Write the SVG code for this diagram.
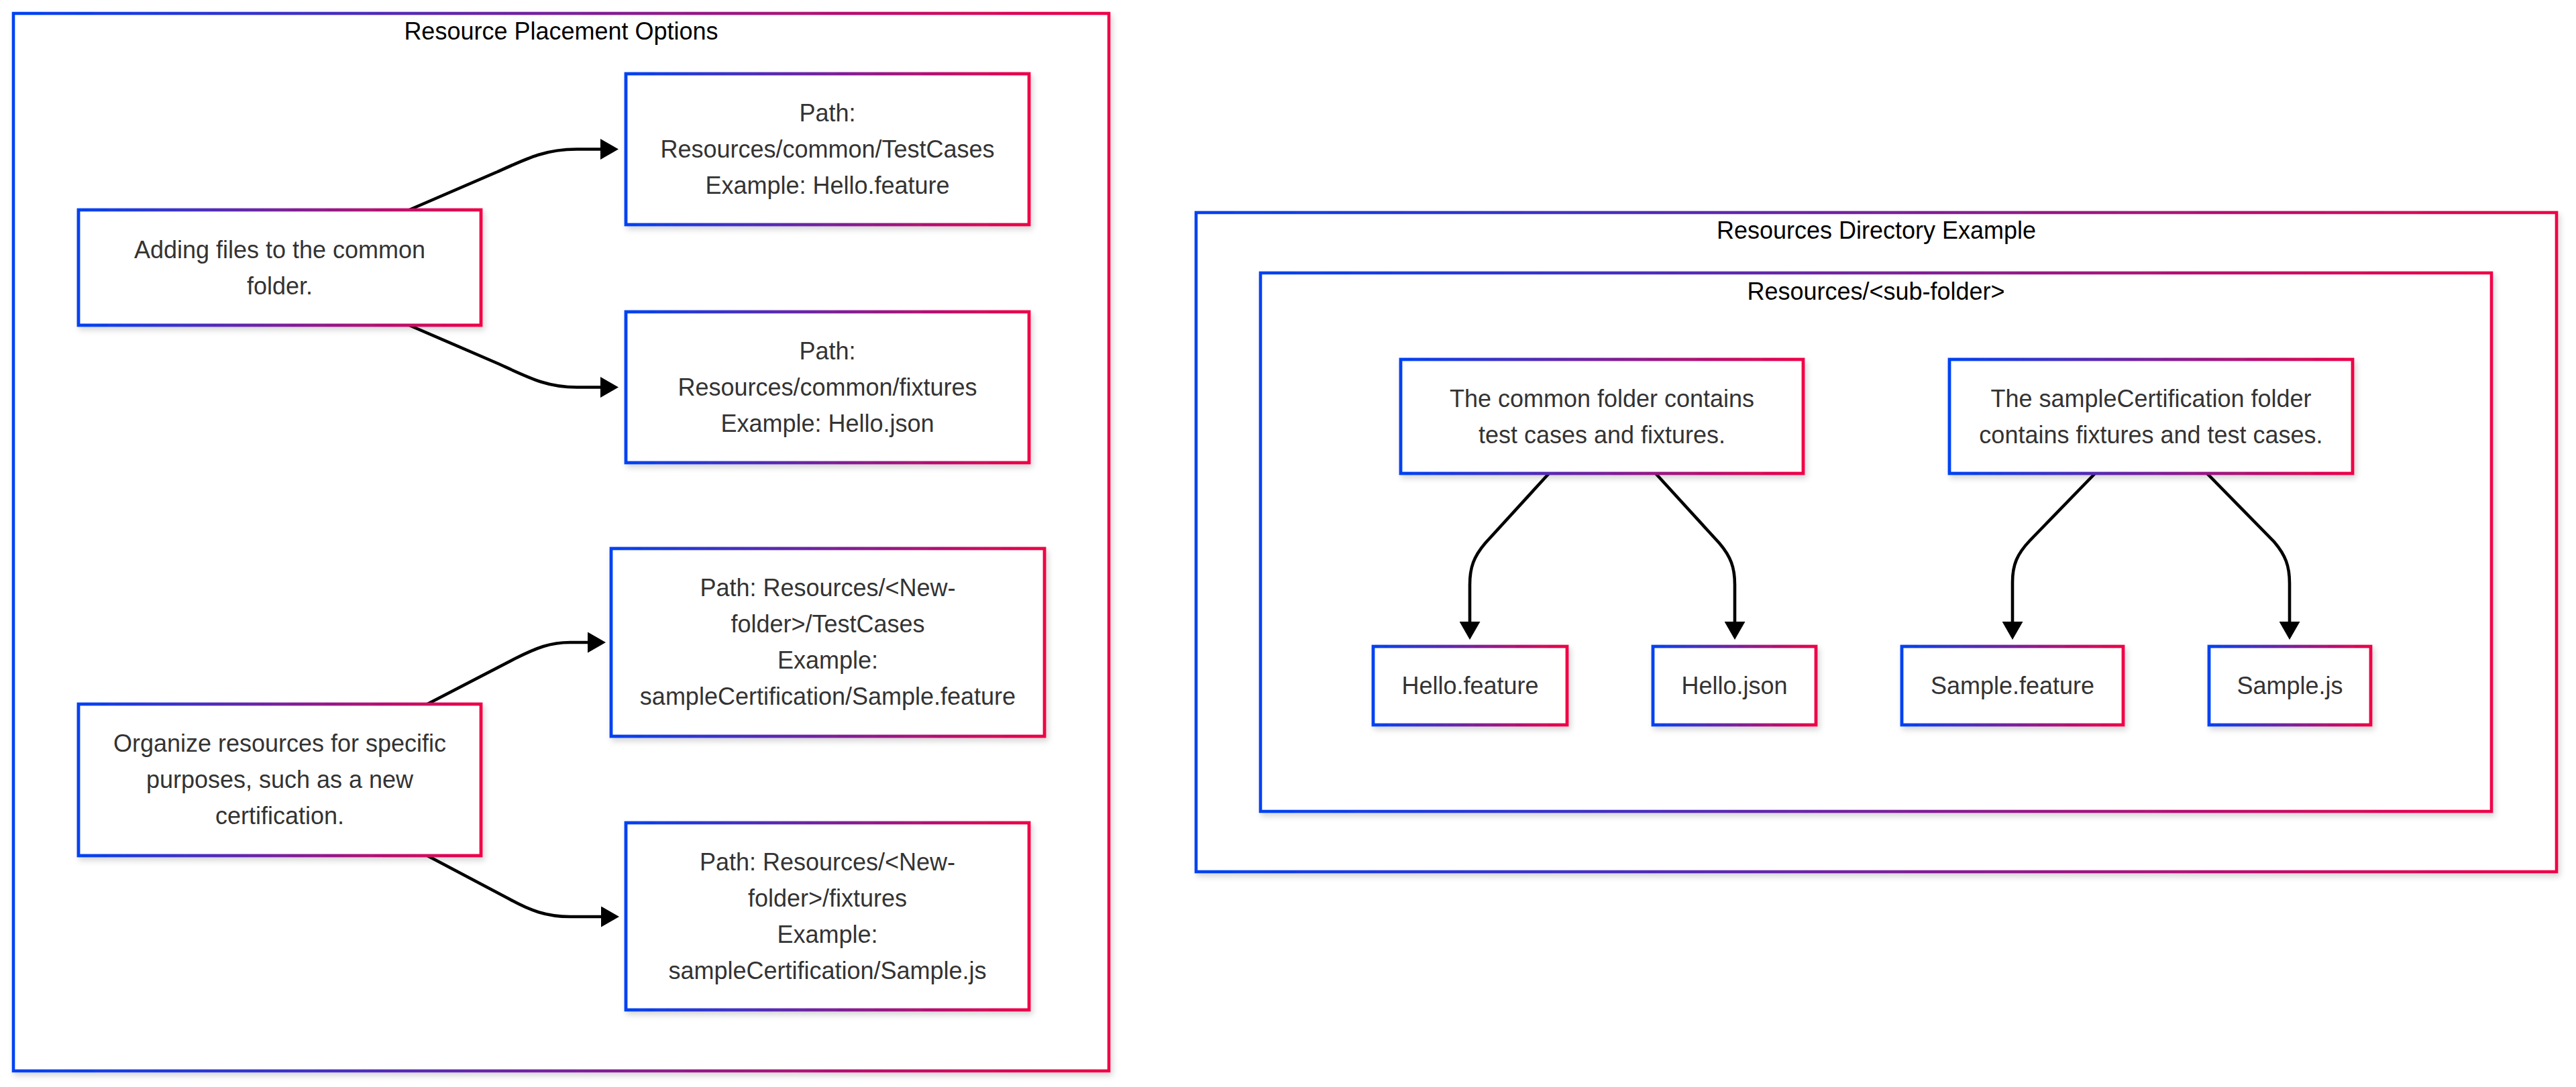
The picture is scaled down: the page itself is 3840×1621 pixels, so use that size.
<svg xmlns="http://www.w3.org/2000/svg" width="3840" height="1621" viewBox="0 0 3840 1621">
<defs>
<linearGradient id="grad" x1="0" y1="0" x2="1" y2="0">
<stop offset="0" stop-color="#0042f2"/>
<stop offset="1" stop-color="#ef0046"/>
</linearGradient>
<filter id="shadow" x="-10%" y="-10%" width="120%" height="130%">
<feDropShadow dx="3" dy="5" stdDeviation="4" flood-color="#000" flood-opacity="0.16"/>
</filter>
<marker id="arrow" markerUnits="userSpaceOnUse" markerWidth="27" markerHeight="31" viewBox="0 0 27 31" refX="0" refY="15.5" orient="auto">
<path d="M0,0 L27,15.5 L0,31 z" fill="#000"/>
</marker>
<style>
.cluster{fill:#fff;stroke:url(#grad);stroke-width:4.6;filter:url(#shadow);}
.node{fill:#fff;stroke:url(#grad);stroke-width:4.8;filter:url(#shadow);}
.ctitle{font-family:"Liberation Sans",Arial,sans-serif;font-size:36px;fill:#000;text-anchor:middle;}
.ntext{font-family:"Liberation Sans",Arial,sans-serif;font-size:36px;fill:#333;text-anchor:middle;}
.edge{fill:none;stroke:#000;stroke-width:4.6;marker-end:url(#arrow);}
</style>
</defs>
<rect width="3840" height="1621" fill="#fff"/>

<g id="cluster-placement">
<rect class="cluster" x="20" y="20" width="1633" height="1577"/>
<text class="ctitle" x="836.5" y="59">Resource Placement Options</text>
</g>

<g id="cluster-directory">
<rect class="cluster" x="1783" y="317" width="2028" height="983"/>
<text class="ctitle" x="2797" y="356">Resources Directory Example</text>
</g>

<g id="cluster-subfolder">
<rect class="cluster" x="1879" y="407" width="1835" height="803"/>
<text class="ctitle" x="2796.5" y="447">Resources/&lt;sub-folder&gt;</text>
</g>

<g id="edges">
<path class="edge" d="M610,313 L742,256 C790,234 815,222.5 860,222.5 L895,222.5"/>
<path class="edge" d="M610,485 L742,542 C790,564 815,577.5 860,577.5 L895,577.5"/>
<path class="edge" d="M637,1050 L768,982 C800,966 820,958 850,958 L876,958"/>
<path class="edge" d="M637,1276 L758,1340 C790,1358 815,1367 850,1367 L896,1367"/>
<path class="edge" d="M2309,706 L2214,810 C2197,830 2191,846 2191,872 L2191,927"/>
<path class="edge" d="M2468,706 L2563,810 C2580,830 2586,846 2586,872 L2586,927"/>
<path class="edge" d="M3123,706 L3026,806 C3007,826 3000,842 3000,868 L3000,927"/>
<path class="edge" d="M3290,706 L3390,808 C3407,828 3413,844 3413,870 L3413,927"/>
</g>

<g id="node-adding">
<rect class="node" x="117" y="313" width="600" height="172"/>
<text class="ntext" x="417" y="385">Adding files to the common</text>
<text class="ntext" x="417" y="439">folder.</text>
</g>

<g id="node-common-testcases">
<rect class="node" x="933" y="110" width="601" height="225"/>
<text class="ntext" x="1233.5" y="181">Path:</text>
<text class="ntext" x="1233.5" y="235">Resources/common/TestCases</text>
<text class="ntext" x="1233.5" y="289">Example: Hello.feature</text>
</g>

<g id="node-common-fixtures">
<rect class="node" x="933" y="465" width="601" height="225"/>
<text class="ntext" x="1233.5" y="536">Path:</text>
<text class="ntext" x="1233.5" y="590">Resources/common/fixtures</text>
<text class="ntext" x="1233.5" y="644">Example: Hello.json</text>
</g>

<g id="node-organize">
<rect class="node" x="117" y="1050" width="600" height="226"/>
<text class="ntext" x="417" y="1121">Organize resources for specific</text>
<text class="ntext" x="417" y="1175">purposes, such as a new</text>
<text class="ntext" x="417" y="1229">certification.</text>
</g>

<g id="node-new-testcases">
<rect class="node" x="911" y="818" width="646" height="280"/>
<text class="ntext" x="1234" y="889">Path: Resources/&lt;New-</text>
<text class="ntext" x="1234" y="943">folder&gt;/TestCases</text>
<text class="ntext" x="1234" y="997">Example:</text>
<text class="ntext" x="1234" y="1051">sampleCertification/Sample.feature</text>
</g>

<g id="node-new-fixtures">
<rect class="node" x="933" y="1227" width="601" height="279"/>
<text class="ntext" x="1233.5" y="1298">Path: Resources/&lt;New-</text>
<text class="ntext" x="1233.5" y="1352">folder&gt;/fixtures</text>
<text class="ntext" x="1233.5" y="1406">Example:</text>
<text class="ntext" x="1233.5" y="1460">sampleCertification/Sample.js</text>
</g>

<g id="node-common-folder">
<rect class="node" x="2088" y="536" width="600" height="170"/>
<text class="ntext" x="2388" y="607">The common folder contains</text>
<text class="ntext" x="2388" y="661">test cases and fixtures.</text>
</g>

<g id="node-sample-folder">
<rect class="node" x="2906" y="536" width="601" height="170"/>
<text class="ntext" x="3206.5" y="607">The sampleCertification folder</text>
<text class="ntext" x="3206.5" y="661">contains fixtures and test cases.</text>
</g>

<g id="node-hello-feature">
<rect class="node" x="2047" y="964" width="289" height="117"/>
<text class="ntext" x="2191.5" y="1035">Hello.feature</text>
</g>

<g id="node-hello-json">
<rect class="node" x="2464" y="964" width="243" height="117"/>
<text class="ntext" x="2585.5" y="1035">Hello.json</text>
</g>

<g id="node-sample-feature">
<rect class="node" x="2835" y="964" width="330" height="117"/>
<text class="ntext" x="3000" y="1035">Sample.feature</text>
</g>

<g id="node-sample-js">
<rect class="node" x="3293" y="964" width="241" height="117"/>
<text class="ntext" x="3413.5" y="1035">Sample.js</text>
</g>
</svg>
